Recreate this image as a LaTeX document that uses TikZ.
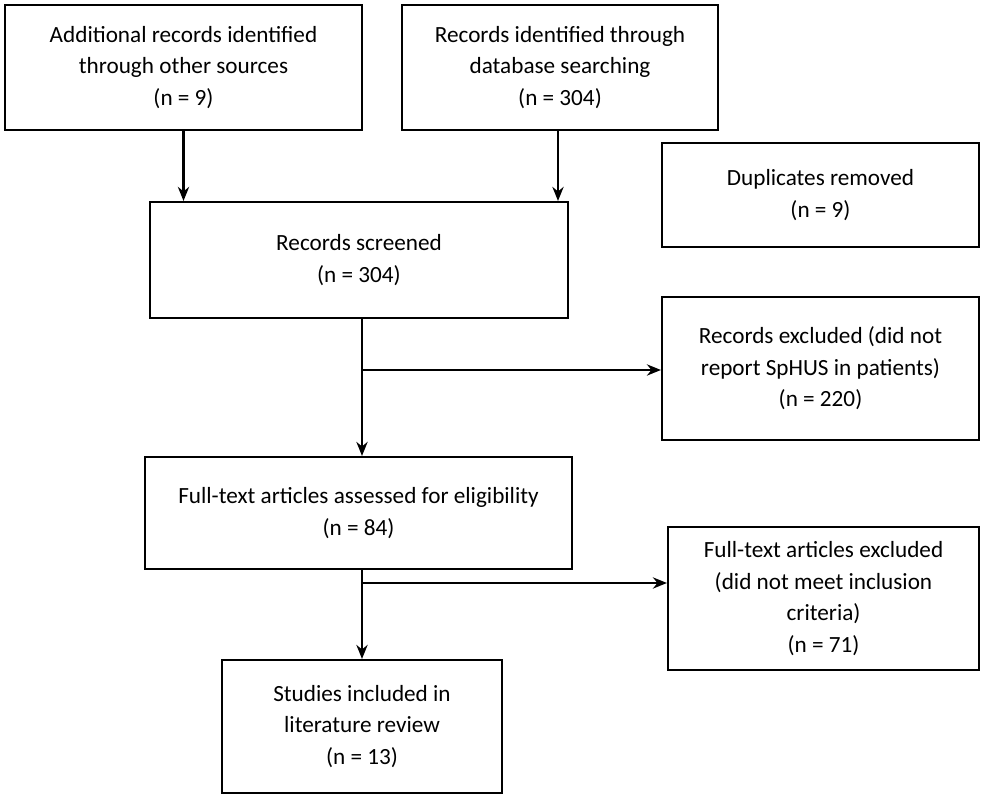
\documentclass[tikz,border=0pt]{standalone}
\usepackage{fontspec}
\setmainfont{Carlito}
\usetikzlibrary{arrows.meta}
\begin{document}
\begin{tikzpicture}
                    \useasboundingbox (0,0) rectangle (9.85,8.00);
                    \tikzset{box/.style={draw, line width=0.6pt, align=center, inner sep=0pt,
                        font=\fontsize{6.6}{9.0}\selectfont},
                        flow/.style={line width=0.6pt, -{Stealth[length=4pt,width=3.2pt]}}}
                    
                    % Boxes of the identification stage
                    \node [box, minimum width=3.57cm, minimum height=1.25cm] (other) at (1.835,7.325) {Additional records identified\\through other sources\\(n = 9)};%
                    \node [box, minimum width=3.16cm, minimum height=1.25cm] (dbase) at (5.600,7.325) {Records identified through\\database searching\\(n = 304)};%
                    \node [box, minimum width=3.17cm, minimum height=1.04cm] (dupl) at (8.205,6.050) {Duplicates removed\\(n = 9)};%
                    
                    % Boxes of the screening stage
                    \node [box, minimum width=4.18cm, minimum height=1.16cm] (screen) at (3.590,5.400) {Records screened\\(n = 304)};%
                    \node [box, minimum width=3.17cm, minimum height=1.43cm] (excl) at (8.205,4.315) {Records excluded (did not\\report SpHUS in patients)\\(n = 220)};%
                    
                    % Boxes of the eligibility stage
                    \node [box, minimum width=4.27cm, minimum height=1.12cm] (full) at (3.585,2.870) {Full-text articles assessed for eligibility\\(n = 84)};%
                    \node [box, minimum width=3.11cm, minimum height=1.43cm] (fullexcl) at (8.235,2.015) {Full-text articles excluded\\(did not meet inclusion\\criteria)\\(n = 71)};%
                    
                    % Box of the included studies
                    \node [box, minimum width=2.80cm, minimum height=1.33cm] (incl) at (3.620,0.735) {Studies included in\\literature review\\(n = 13)};%
                    
                    % Arrows
                    \draw [flow] (other.south) -- (other.south |- screen.north);%
                    \draw [flow] ([xshift=-0.02cm]dbase.south) -- ([xshift=-0.02cm]dbase.south |- screen.north);%
                    \draw [flow] ([xshift=0.03cm]screen.south) -- ([xshift=0.03cm]screen.south |- full.north);%
                    \coordinate (branchA) at (3.62,4.30);%
                    \draw [flow] (branchA) -- (excl.west |- branchA);%
                    \draw [flow] ([xshift=0.035cm]full.south) -- ([xshift=0.035cm]full.south |- incl.north);%
                    \coordinate (branchB) at (3.62,2.17);%
                    \draw [flow] (branchB) -- (fullexcl.west |- branchB);%
                \end{tikzpicture}
\end{document}
